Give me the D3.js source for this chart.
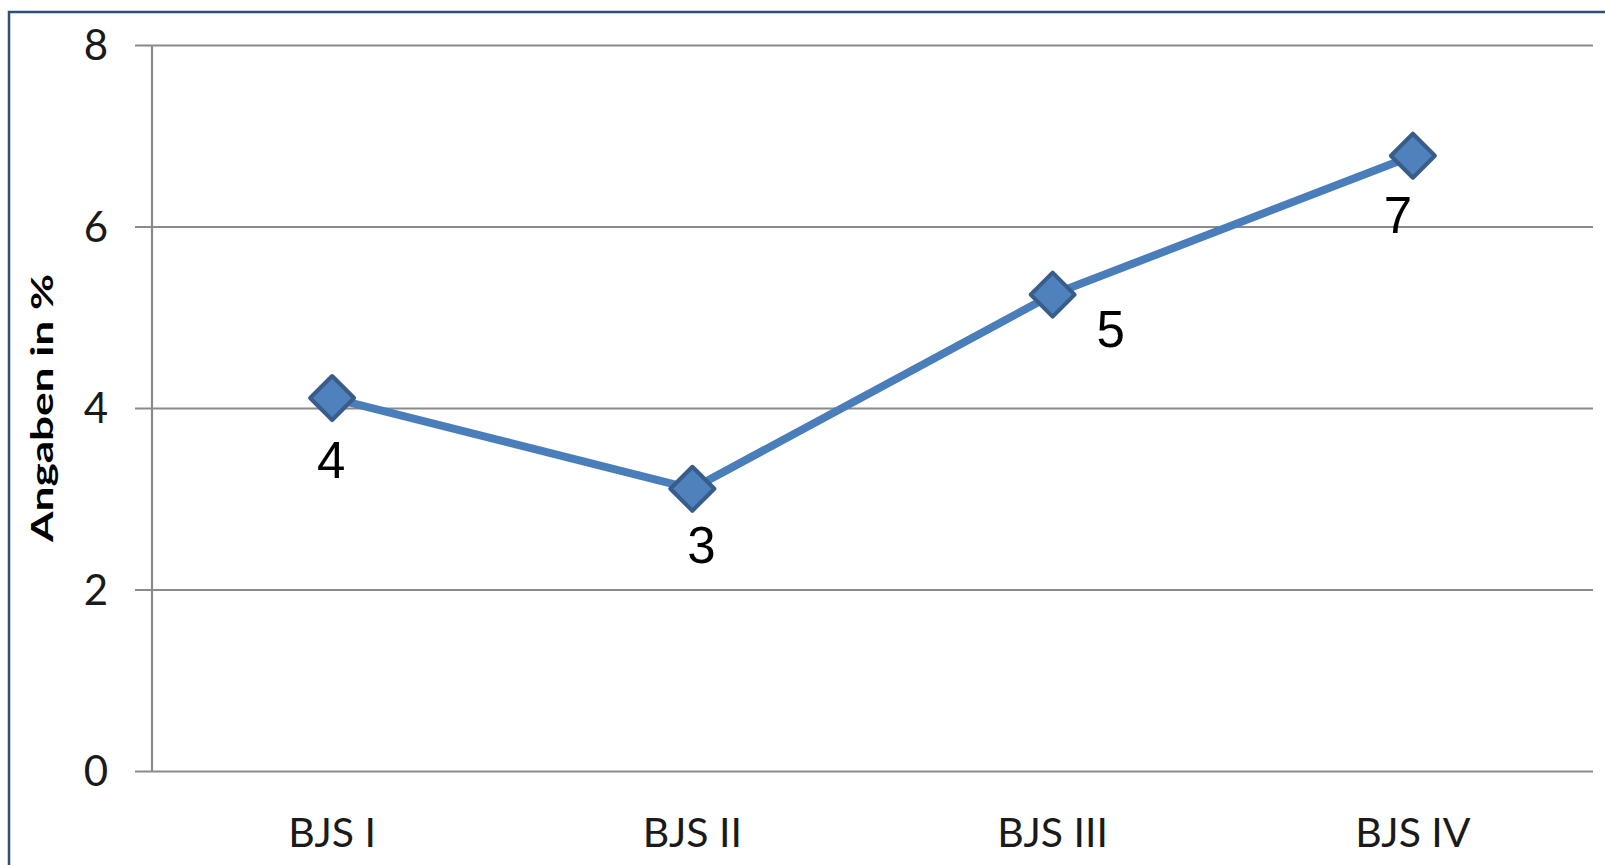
<!DOCTYPE html>
<html>
<head>
<meta charset="utf-8">
<script src="https://cdn.jsdelivr.net/npm/d3@7"></script>
<style>
  body { margin: 0; background: #fff; }
  svg { display: block; }
</style>
</head>
<body>
<div id="chart"></div>
<script>
// data
var categories = ["BJS I", "BJS II", "BJS III", "BJS IV"];
var values = [4.11, 3.11, 5.25, 6.78];
var valueLabels = ["4", "3", "5", "7"];
var yTicks = [0, 2, 4, 6, 8];

// label nudges (layout only)
var labelDx = [-1, 9, 58, -15];
var labelDy = [80, 74, 52, 77];

var svgWidth = 1605;
var svgHeight = 865;

var plot = { left: 152, right: 1593, top: 45, bottom: 771 };

var svg = d3.select("#chart")
  .append("svg")
  .attr("width", svgWidth)
  .attr("height", svgHeight);

svg.append("rect")
  .attr("width", svgWidth)
  .attr("height", svgHeight)
  .attr("fill", "#fff");

// outer frame (right and bottom edges are off the picture)
svg.append("rect")
  .attr("x", 9)
  .attr("y", 12)
  .attr("width", 1700)
  .attr("height", 1000)
  .attr("fill", "none")
  .attr("stroke", "#2f4f78")
  .attr("stroke-width", 2.5);

var x = d3.scaleBand()
  .domain(categories)
  .range([plot.left, plot.right]);

var y = d3.scaleLinear()
  .domain([0, 8])
  .range([plot.bottom, plot.top]);

// gridlines + tick marks
var yAxis = d3.axisLeft(y)
  .tickValues(yTicks)
  .tickSize(-(plot.right - plot.left))
  .tickSizeOuter(0)
  .tickPadding(0)
  .tickFormat("");

var gy = svg.append("g")
  .attr("transform", `translate(${plot.left},0)`)
  .call(yAxis);
gy.select(".domain").remove();
gy.selectAll(".tick line")
  .attr("x1", -17)
  .attr("stroke", "#8a8a8a")
  .attr("stroke-width", 2.2);

// vertical axis line
svg.append("line")
  .attr("x1", plot.left).attr("x2", plot.left)
  .attr("y1", y(8)).attr("y2", y(0))
  .attr("stroke", "#8a8a8a")
  .attr("stroke-width", 2.2);

// tick labels
svg.selectAll(".ytick")
  .data(yTicks)
  .enter()
  .append("text")
  .attr("class", "ytick")
  .attr("x", 108)
  .attr("y", d => y(d))
  .attr("dy", "0.36em")
  .attr("text-anchor", "end")
  .style("font-family", "Lato, 'Open Sans', sans-serif")
  .style("font-size", "42px")
  .attr("fill", "#1a1a1a")
  .text(d => d);

// category labels
svg.selectAll(".xtick")
  .data(categories)
  .enter()
  .append("text")
  .attr("class", "xtick")
  .attr("x", d => x(d) + x.bandwidth() / 2)
  .attr("y", 847)
  .attr("text-anchor", "middle")
  .style("font-family", "Lato, 'Open Sans', sans-serif")
  .style("font-size", "41px")
  .attr("fill", "#1a1a1a")
  .text(d => d);

// axis title
svg.append("text")
  .attr("transform", "translate(53,408) rotate(-90)")
  .attr("text-anchor", "middle")
  .attr("textLength", 268)
  .attr("lengthAdjust", "spacingAndGlyphs")
  .style("font-family", "Lato, 'Open Sans', sans-serif")
  .style("font-weight", "bold")
  .style("font-size", "31px")
  .attr("fill", "#000")
  .text("Angaben in %");

var points = categories.map((c, i) => ({ cat: c, value: values[i], label: valueLabels[i], i: i }));

var line = d3.line()
  .x(d => x(d.cat) + x.bandwidth() / 2)
  .y(d => y(d.value));

svg.append("path")
  .datum(points)
  .attr("d", line)
  .attr("fill", "none")
  .attr("stroke", "#4a7ebb")
  .attr("stroke-width", 8)
  .attr("stroke-linejoin", "round");

var r = 22;
svg.selectAll(".marker")
  .data(points)
  .enter()
  .append("path")
  .attr("class", "marker")
  .attr("d", `M0,${-r}L${r},0L0,${r}L${-r},0Z`)
  .attr("transform", d => `translate(${x(d.cat) + x.bandwidth() / 2},${y(d.value)})`)
  .attr("fill", "#4f81bd")
  .attr("stroke", "#385d8a")
  .attr("stroke-width", 4)
  .attr("stroke-linejoin", "round");

svg.selectAll(".vlabel")
  .data(points)
  .enter()
  .append("text")
  .attr("class", "vlabel")
  .attr("x", d => x(d.cat) + x.bandwidth() / 2 + labelDx[d.i])
  .attr("y", d => y(d.value) + labelDy[d.i])
  .attr("text-anchor", "middle")
  .style("font-family", "'Liberation Sans', Arial, sans-serif")
  .style("font-size", "51px")
  .attr("fill", "#000")
  .text(d => d.label);
</script>
</body>
</html>
